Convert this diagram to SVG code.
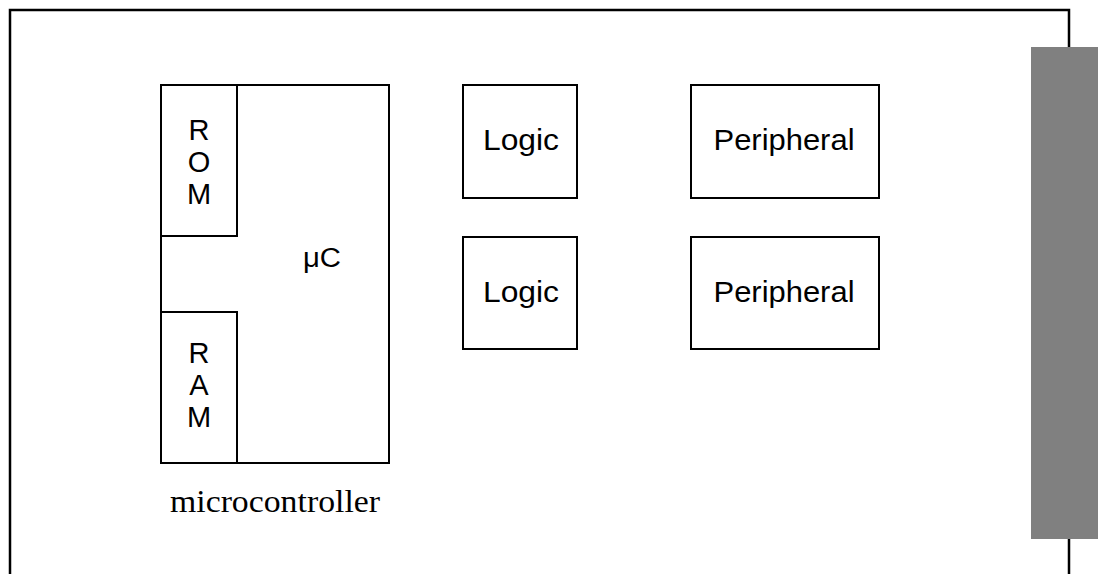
<svg xmlns="http://www.w3.org/2000/svg" width="1098" height="574" viewBox="0 0 1098 574">
  <style>
    .box { fill: #ffffff; stroke: #000000; stroke-width: 2; }
    .board { fill: none; stroke: #000000; stroke-width: 2.5; }
    .sans { font-family: "Liberation Sans", Arial, Helvetica, sans-serif; fill: #000000; }
    .lbl { font-size: 29px; text-anchor: middle; }
    .serif { font-family: "Liberation Serif", "Times New Roman", serif; fill: #000000; }
  </style>
  <rect x="0" y="0" width="1098" height="574" fill="#ffffff"/>

  <!-- circuit board outline (continues past the bottom edge) -->
  <g id="board">
    <path class="board" d="M10,576 V10 H1069 V576"/>
    <!-- edge connector -->
    <rect x="1031" y="47" width="67" height="492" fill="#808080"/>
  </g>

  <!-- microcontroller with on-chip ROM and RAM -->
  <g id="microcontroller">
    <rect class="box" x="161" y="85" width="228" height="378"/>
    <text class="sans" x="303" y="267" font-size="27" textLength="38" lengthAdjust="spacingAndGlyphs">μC</text>
    <g id="rom">
      <rect class="box" x="161" y="85" width="76" height="151"/>
      <text class="sans lbl" x="199" y="140">R</text>
      <text class="sans lbl" x="199" y="172">O</text>
      <text class="sans lbl" x="199" y="204">M</text>
    </g>
    <g id="ram">
      <rect class="box" x="161" y="312" width="76" height="151"/>
      <text class="sans lbl" x="199" y="363">R</text>
      <text class="sans lbl" x="199" y="395">A</text>
      <text class="sans lbl" x="199" y="427">M</text>
    </g>
    <text class="serif" x="170" y="512" font-size="32" textLength="210" lengthAdjust="spacingAndGlyphs">microcontroller</text>
  </g>

  <g id="logic1">
    <rect class="box" x="463" y="85" width="114" height="113"/>
    <text class="sans lbl" x="521" y="150" textLength="76" lengthAdjust="spacingAndGlyphs">Logic</text>
  </g>
  <g id="logic2">
    <rect class="box" x="463" y="237" width="114" height="112"/>
    <text class="sans lbl" x="521" y="302" textLength="76" lengthAdjust="spacingAndGlyphs">Logic</text>
  </g>
  <g id="peripheral1">
    <rect class="box" x="691" y="85" width="188" height="113"/>
    <text class="sans lbl" x="784" y="150" textLength="141" lengthAdjust="spacingAndGlyphs">Peripheral</text>
  </g>
  <g id="peripheral2">
    <rect class="box" x="691" y="237" width="188" height="112"/>
    <text class="sans lbl" x="784" y="302" textLength="141" lengthAdjust="spacingAndGlyphs">Peripheral</text>
  </g>

  <!-- no wiring is drawn between the parts -->
  <g id="connectors"></g>
</svg>
